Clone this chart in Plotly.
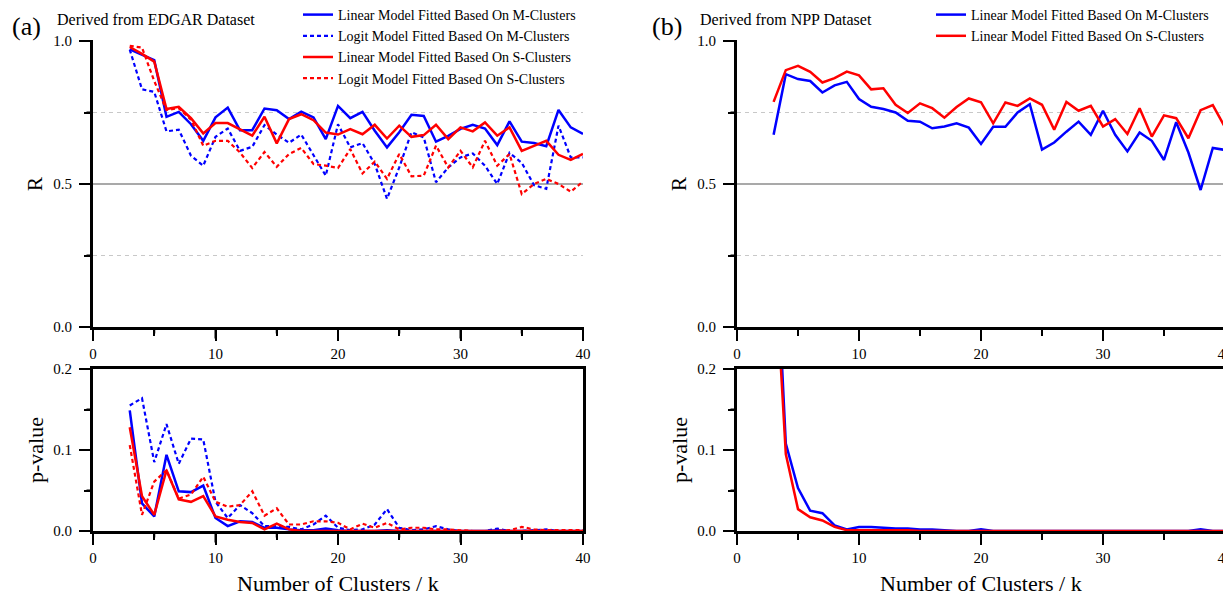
import plotly.graph_objects as go

W, H = 1231, 597
FONT = "Liberation Serif, Times New Roman, serif"

# ---------------- data ----------------
k = list(range(3, 41))

a_R_lin_M = [0.971, 0.952, 0.933, 0.735, 0.752, 0.709, 0.651, 0.733, 0.767, 0.688,
             0.688, 0.764, 0.758, 0.727, 0.753, 0.733, 0.657, 0.773, 0.730, 0.752,
             0.686, 0.628, 0.681, 0.742, 0.738, 0.648, 0.668, 0.693, 0.707, 0.694,
             0.636, 0.719, 0.648, 0.643, 0.632, 0.759, 0.698, 0.675]
a_R_logit_M = [0.970, 0.831, 0.822, 0.684, 0.690, 0.599, 0.564, 0.665, 0.694, 0.616,
               0.630, 0.706, 0.673, 0.644, 0.673, 0.599, 0.529, 0.709, 0.628, 0.643,
               0.570, 0.448, 0.558, 0.681, 0.663, 0.506, 0.558, 0.593, 0.607, 0.564,
               0.500, 0.609, 0.574, 0.496, 0.483, 0.704, 0.593, 0.593]
a_R_lin_S = [0.979, 0.955, 0.928, 0.762, 0.770, 0.730, 0.677, 0.713, 0.713, 0.692,
             0.669, 0.735, 0.642, 0.727, 0.744, 0.723, 0.680, 0.673, 0.692, 0.674,
             0.707, 0.659, 0.704, 0.665, 0.671, 0.707, 0.657, 0.698, 0.684, 0.715,
             0.669, 0.698, 0.616, 0.633, 0.651, 0.602, 0.584, 0.605]
a_R_logit_S = [0.983, 0.977, 0.860, 0.759, 0.765, 0.725, 0.634, 0.651, 0.651, 0.610,
               0.556, 0.612, 0.560, 0.605, 0.626, 0.570, 0.564, 0.556, 0.622, 0.537,
               0.578, 0.518, 0.605, 0.527, 0.529, 0.634, 0.558, 0.616, 0.558, 0.651,
               0.564, 0.605, 0.465, 0.500, 0.518, 0.500, 0.473, 0.509]

a_p_lin_M = [0.149, 0.034, 0.018, 0.094, 0.049, 0.048, 0.056, 0.016, 0.006, 0.012,
             0.011, 0.004, 0.004, 0.002, 0.001, 0.001, 0.003, 0.001, 0.000, 0.000,
             0.000, 0.001, 0.000, 0.000, 0.000, 0.000, 0.000, 0.000, 0.000, 0.000,
             0.001, 0.000, 0.000, 0.000, 0.000, 0.000, 0.000, 0.000]
a_p_logit_M = [0.155, 0.164, 0.085, 0.132, 0.083, 0.114, 0.113, 0.036, 0.016, 0.032,
               0.022, 0.006, 0.006, 0.005, 0.002, 0.008, 0.019, 0.004, 0.001, 0.002,
               0.008, 0.027, 0.004, 0.001, 0.002, 0.006, 0.002, 0.000, 0.000, 0.000,
               0.003, 0.000, 0.000, 0.001, 0.002, 0.000, 0.000, 0.000]
a_p_lin_S = [0.128, 0.043, 0.020, 0.075, 0.039, 0.036, 0.043, 0.018, 0.014, 0.011,
             0.010, 0.002, 0.009, 0.002, 0.000, 0.000, 0.000, 0.000, 0.000, 0.000,
             0.000, 0.000, 0.000, 0.000, 0.000, 0.000, 0.000, 0.000, 0.000, 0.000,
             0.000, 0.000, 0.000, 0.000, 0.000, 0.000, 0.000, 0.000]
a_p_logit_S = [0.106, 0.020, 0.061, 0.075, 0.040, 0.045, 0.067, 0.036, 0.030, 0.032,
               0.049, 0.019, 0.028, 0.008, 0.008, 0.012, 0.012, 0.010, 0.002, 0.009,
               0.004, 0.010, 0.002, 0.004, 0.004, 0.002, 0.002, 0.001, 0.000, 0.000,
               0.000, 0.001, 0.005, 0.002, 0.001, 0.001, 0.001, 0.001]

b_R_lin_M = [0.672, 0.884, 0.867, 0.860, 0.820, 0.845, 0.857, 0.797, 0.770, 0.762,
             0.750, 0.721, 0.718, 0.695, 0.701, 0.712, 0.697, 0.640, 0.700, 0.700,
             0.750, 0.779, 0.620, 0.645, 0.683, 0.718, 0.672, 0.756, 0.672, 0.614,
             0.680, 0.651, 0.584, 0.716, 0.610, 0.479, 0.626, 0.619]
b_R_lin_S = [0.787, 0.898, 0.913, 0.892, 0.855, 0.870, 0.893, 0.880, 0.831, 0.835,
             0.777, 0.748, 0.782, 0.765, 0.732, 0.769, 0.799, 0.786, 0.712, 0.785,
             0.773, 0.799, 0.777, 0.690, 0.787, 0.756, 0.773, 0.701, 0.727, 0.675,
             0.765, 0.666, 0.740, 0.730, 0.660, 0.758, 0.776, 0.698]

b_p_lin_M = [0.420, 0.108, 0.053, 0.025, 0.022, 0.007, 0.002, 0.005, 0.005, 0.004,
             0.003, 0.003, 0.002, 0.002, 0.001, 0.000, 0.000, 0.002, 0.000, 0.000,
             0.000, 0.000, 0.000, 0.000, 0.000, 0.000, 0.000, 0.000, 0.000, 0.000,
             0.000, 0.000, 0.000, 0.000, 0.000, 0.002, 0.000, 0.000]
b_p_lin_S = [0.360, 0.095, 0.027, 0.017, 0.013, 0.005, 0.001, 0.001, 0.001, 0.001,
             0.001, 0.001, 0.000, 0.000, 0.000, 0.000, 0.000, 0.000, 0.000, 0.000,
             0.000, 0.000, 0.000, 0.000, 0.000, 0.000, 0.000, 0.000, 0.000, 0.000,
             0.000, 0.000, 0.000, 0.000, 0.000, 0.000, 0.000, 0.000]

# tick values
x_major = [0, 10, 20, 30, 40]
x_minor = [5, 15, 25, 35]
r_major = [0.0, 0.5, 1.0]
r_minor = [0.25, 0.75]
p_major = [0.0, 0.1, 0.2]
p_minor = [0.05, 0.15]

names = ["Linear Model Fitted Based On M-Clusters",
         "Logit Model Fitted Based On M-Clusters",
         "Linear Model Fitted Based On S-Clusters",
         "Logit Model Fitted Based On S-Clusters"]

BLUE, RED = "#0000FF", "#FF0000"
DASH = "4px,3px"
OFF = 8  # page body margin


def px_x(p):
    return (p - OFF) / W


def px_y(p):
    return 1 - (p - OFF) / H


fig = go.Figure()


def add(x, y, xa, ya, color, dash, name, legend=None, show=False):
    fig.add_trace(go.Scatter(
        x=x, y=y, mode="lines", xaxis=xa, yaxis=ya, name=name,
        line=dict(color=color, width=2.5 if dash == "solid" else 2.2, dash=dash),
        showlegend=show, legend=legend or "legend", hoverinfo="skip"))


add(k, a_R_lin_M, "x", "y", BLUE, "solid", names[0], "legend", True)
add(k, a_R_logit_M, "x", "y", BLUE, DASH, names[1], "legend", True)
add(k, a_R_lin_S, "x", "y", RED, "solid", names[2], "legend", True)
add(k, a_R_logit_S, "x", "y", RED, DASH, names[3], "legend", True)
add(k, a_p_lin_M, "x2", "y2", BLUE, "solid", names[0])
add(k, a_p_logit_M, "x2", "y2", BLUE, DASH, names[1])
add(k, a_p_lin_S, "x2", "y2", RED, "solid", names[2])
add(k, a_p_logit_S, "x2", "y2", RED, DASH, names[3])
add(k, b_R_lin_M, "x3", "y3", BLUE, "solid", names[0], "legend2", True)
add(k, b_R_lin_S, "x3", "y3", RED, "solid", names[2], "legend2", True)
add(k, b_p_lin_M, "x4", "y4", BLUE, "solid", names[0])
add(k, b_p_lin_S, "x4", "y4", RED, "solid", names[2])

XPX = {"a": (93, 583), "b": (737, 1225)}
TOPPX, BOTPX = (41, 327), (369, 531)
AX_X = {s: (px_x(v[0]), px_x(v[1])) for s, v in XPX.items()}
TOP_Y = (px_y(TOPPX[1]), px_y(TOPPX[0]))
BOT_Y = (px_y(BOTPX[1]), px_y(BOTPX[0]))

tickfont = dict(family=FONT, size=15, color="black")


def xaxis(domain, anchor, mirror):
    return dict(domain=domain, anchor=anchor, range=[0, 40], tickmode="array",
                tickvals=x_major, ticks="outside", ticklen=11, tickwidth=2,
                tickcolor="#000000", showline=True, linewidth=3,
                linecolor="#000000", mirror=mirror, showgrid=False,
                zeroline=False, tickfont=tickfont, automargin=False,
                minor=dict(ticks="outside", tickvals=x_minor, ticklen=6,
                           tickwidth=2, tickcolor="#000000", showgrid=False))


def yaxis(domain, anchor, rng, vals, mvals, mirror):
    return dict(domain=domain, anchor=anchor, range=rng, tickmode="array",
                tickvals=vals, tickformat=".1f", ticks="outside", ticklen=11,
                tickwidth=2, tickcolor="#000000", showline=True, linewidth=3,
                linecolor="#000000", mirror=mirror, showgrid=False,
                zeroline=False, tickfont=tickfont, automargin=False,
                ticklabelstandoff=4,
                minor=dict(ticks="outside", tickvals=mvals, ticklen=6,
                           tickwidth=2, tickcolor="#000000", showgrid=False))


shapes = []
for xr, yr in (("x", "y"), ("x3", "y3")):
    for val, col, dash, wd in ((0.25, "#c8c8c8", "4px,4px", 1.2),
                               (0.75, "#c8c8c8", "4px,4px", 1.2),
                               (0.5, "#8c8c8c", "solid", 1.6)):
        shapes.append(dict(type="line", xref=xr + " domain", yref=yr,
                           x0=0, x1=1, y0=val, y1=val, layer="below",
                           line=dict(color=col, width=wd, dash=dash)))

annotations = []


# outward tick marks drawn as headless annotation arrows anchored on the axes
def tick(xr, yr, x, y, dx, dy):
    annotations.append(dict(text="", x=x, y=y, xref=xr, yref=yr, showarrow=True,
                            arrowhead=0, arrowwidth=2, arrowcolor="black",
                            ax=dx, ay=dy, axref="pixel", ayref="pixel",
                            standoff=0, startstandoff=0, borderpad=0,
                            font=dict(size=1)))


for xr, yr, ymaj, ymin in (("x", "y", r_major, r_minor),
                           ("x2", "y2", p_major, p_minor),
                           ("x3", "y3", r_major, r_minor),
                           ("x4", "y4", p_major, p_minor)):
    for v in x_major:
        tick(xr, yr, v, ymaj[0], 0, 12)
    for v in x_minor:
        tick(xr, yr, v, ymaj[0], 0, 7)
    for v in ymaj:
        tick(xr, yr, x_major[0], v, -12, 0)
    for v in ymin:
        tick(xr, yr, x_major[0], v, -7, 0)


def ann(text, xp, yp, size, xanchor="center", angle=0):
    annotations.append(dict(text=text, x=px_x(xp), y=px_y(yp), xref="paper",
                            yref="paper", showarrow=False, xanchor=xanchor,
                            yanchor="middle", textangle=angle,
                            font=dict(family=FONT, size=size, color="black")))


ann("(a)", 26, 26, 26)
ann("Derived from EDGAR Dataset", 55, 20, 16, "left")
ann("(b)", 667, 26, 26)
ann("Derived from NPP Dataset", 698, 20, 16, "left")
for off, cx in ((0, 338), (644, 981)):
    ann("R", 35 + off, 184, 21, angle=-90)
    ann("p-value", 35 + off, 450, 22, angle=-90)
    ann("Number of Clusters / k", cx, 583, 22)

legend_common = dict(font=dict(family=FONT, size=14, color="black"),
                     bgcolor="rgba(0,0,0,0)", borderwidth=0, xanchor="left",
                     yanchor="top", tracegroupgap=0, itemwidth=30)

fig.update_layout(
    width=W, height=H, margin=dict(l=0, r=0, t=0, b=0, autoexpand=False),
    paper_bgcolor="white", plot_bgcolor="white",
    font=dict(family=FONT, color="black"),
    xaxis=xaxis(AX_X["a"], "y", False),
    yaxis=yaxis(TOP_Y, "x", [0, 1], r_major, r_minor, False),
    xaxis2=xaxis(AX_X["a"], "y2", True),
    yaxis2=yaxis(BOT_Y, "x2", [0, 0.2], p_major, p_minor, True),
    xaxis3=xaxis(AX_X["b"], "y3", False),
    yaxis3=yaxis(TOP_Y, "x3", [0, 1], r_major, r_minor, False),
    xaxis4=xaxis(AX_X["b"], "y4", True),
    yaxis4=yaxis(BOT_Y, "x4", [0, 0.2], p_major, p_minor, True),
    legend=dict(x=px_x(298), y=px_y(-1), **legend_common),
    legend2=dict(x=px_x(931), y=px_y(-1), **legend_common),
    shapes=shapes, annotations=annotations,
)

fig.write_html("out.html")
